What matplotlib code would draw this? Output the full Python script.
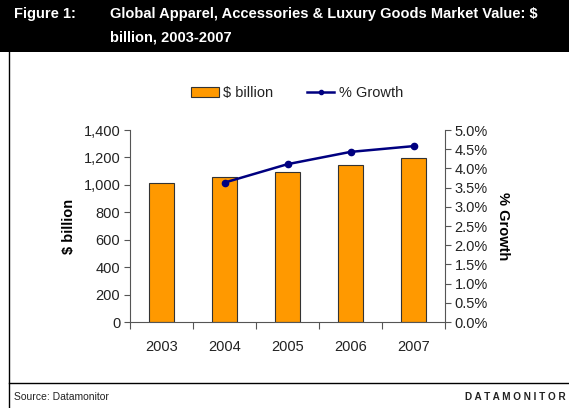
import numpy as np
import matplotlib.pyplot as plt
from matplotlib.lines import Line2D
from matplotlib.patches import Rectangle
from matplotlib.ticker import FuncFormatter, FixedLocator

plt.rcParams['font.family'] = ['Liberation Sans', 'DejaVu Sans']

# Market value and growth, 2003-2007
years = ['2003', '2004', '2005', '2006', '2007']
value_bn = [1011, 1055, 1091, 1145, 1193]
growth_years = ['2004', '2005', '2006', '2007']
growth_pct = [3.63, 4.11, 4.43, 4.58]

ORANGE = '#FF9900'
NAVY = '#000080'
TXT = '#222222'
FS = 10.5

fig = plt.figure(figsize=(5.69, 4.08), dpi=100)

# black header band
fig.patches.append(Rectangle((0, 1 - 52 / 408), 1, 52 / 408, transform=fig.transFigure,
                             facecolor='black', edgecolor='none', zorder=0))
fig.text(14 / 569, 1 - 14 / 408, 'Figure 1:', color='white', fontsize=10.5, fontweight='bold',
         va='center', ha='left')
fig.text(110 / 569, 1 - 14 / 408, 'Global Apparel, Accessories & Luxury Goods Market Value: $',
         color='white', fontsize=10.5, fontweight='bold', va='center', ha='left')
fig.text(110 / 569, 1 - 37 / 408, 'billion, 2003-2007', color='white', fontsize=10.5,
         fontweight='bold', va='center', ha='left')

# frame lines
fig.add_artist(Line2D([9 / 569, 9 / 569], [0, 1 - 52 / 408], color='black', lw=1,
                      transform=fig.transFigure))
fig.add_artist(Line2D([9 / 569, 1], [1 - 383 / 408, 1 - 383 / 408], color='black', lw=1,
                      transform=fig.transFigure))
fig.text(14 / 569, 1 - 397 / 408, 'Source: Datamonitor', fontsize=7.5, color=TXT,
         va='center', ha='left')
fig.text(566 / 569, 1 - 397 / 408, ' '.join('DATAMONITOR'), fontsize=7.2, fontweight='bold',
         color=TXT, va='center', ha='right')

ax = fig.add_axes([130 / 569, 86 / 408, 315 / 569, 192 / 408])
x = np.arange(len(years))
ax.bar(x, value_bn, width=0.41, color=ORANGE, edgecolor='#333333', linewidth=0.8, zorder=2)
ax.set_xlim(-0.5, len(years) - 0.5)
ax.set_ylim(0, 1400)
ax.set_yticks(np.arange(0, 1401, 200))
ax.yaxis.set_major_formatter(FuncFormatter(lambda v, p: f'{int(v):,}'))
ax.set_xticks(x)
ax.set_xticklabels(years)
ax.xaxis.set_minor_locator(FixedLocator(np.arange(-0.5, len(years), 1.0)))
ax.tick_params(axis='x', which='major', length=0, labelsize=FS, pad=13, labelcolor=TXT)
ax.tick_params(axis='x', which='minor', length=5, direction='out', width=0.8, color='#555555')
ax.tick_params(axis='y', length=4, direction='out', labelsize=FS, width=0.8, pad=3,
               labelcolor=TXT, color='#555555')
for side in ['top', 'right']:
    ax.spines[side].set_visible(False)
ax.spines['left'].set_color('#555555')
ax.spines['bottom'].set_color('#555555')
ax.set_ylabel('$ billion', fontsize=FS, fontweight='bold', labelpad=5)

ax2 = ax.twinx()
gx = [years.index(y) for y in growth_years]
ax2.plot(gx, growth_pct, color=NAVY, lw=1.8, marker='o', markersize=4.5, zorder=3)
ax2.set_ylim(0, 5)
ax2.set_yticks(np.arange(0, 5.01, 0.5))
ax2.yaxis.set_major_formatter(FuncFormatter(lambda v, p: f'{v:.1f}%'))
ax2.tick_params(axis='y', length=4, direction='out', labelsize=FS, width=0.8, pad=3,
                labelcolor=TXT, color='#555555')
for side in ['top', 'left', 'bottom']:
    ax2.spines[side].set_visible(False)
ax2.spines['right'].set_color('#555555')
ax2.set_ylabel('% Growth', fontsize=FS, fontweight='bold', rotation=-90, labelpad=16)

handles = [Rectangle((0, 0), 1, 1, facecolor=ORANGE, edgecolor='#333333', linewidth=0.8),
           Line2D([], [], color=NAVY, lw=1.8, marker='o', markersize=3)]
fig.legend(handles, ['$ billion', '% Growth'], loc='center', ncol=2, frameon=False,
           fontsize=FS, bbox_to_anchor=(297 / 569, 1 - 93 / 408), handlelength=1.9,
           handletextpad=0.3, columnspacing=2.3, labelcolor=TXT)

fig.savefig('out.png', dpi=100)
